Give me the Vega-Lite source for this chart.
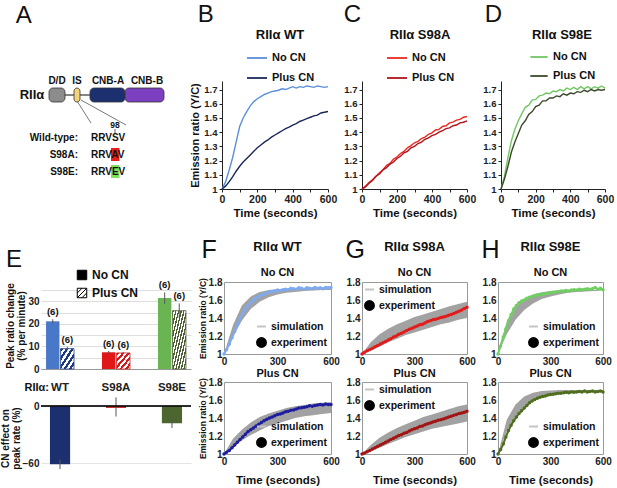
{
  "$schema": "https://vega.github.io/schema/vega-lite/v6.json",
  "padding": {"left": 0, "top": 3, "right": 0, "bottom": 0},
  "config": {
    "font": "Liberation Sans",
    "view": {"stroke": null},
    "axis": {"labelFont": "Liberation Sans", "titleFont": "Liberation Sans", "labelFontWeight": "bold", "titleFontWeight": "bold", "labelFontSize": 10, "titleFontSize": 11, "labelColor": "#222", "titleColor": "#111", "domainColor": "#222", "tickColor": "#222", "grid": false, "labelFlush": false},
    "legend": {"labelFont": "Liberation Sans", "labelFontWeight": "bold", "labelFontSize": 11, "labelColor": "#111", "titleFont": "Liberation Sans", "titleColor": "#111"},
    "title": {"font": "Liberation Sans", "color": "#111"}
  },
  "datasets": {
    "bwt": [
      {"t":0,"v":1.0,"c":"No CN"},{"t":20,"v":1.05,"c":"No CN"},{"t":40,"v":1.13,"c":"No CN"},{"t":60,"v":1.22,"c":"No CN"},{"t":80,"v":1.33,"c":"No CN"},{"t":100,"v":1.44,"c":"No CN"},{"t":120,"v":1.5,"c":"No CN"},{"t":140,"v":1.545,"c":"No CN"},{"t":160,"v":1.585,"c":"No CN"},{"t":180,"v":1.615,"c":"No CN"},{"t":200,"v":1.635,"c":"No CN"},{"t":220,"v":1.65,"c":"No CN"},{"t":240,"v":1.665,"c":"No CN"},{"t":260,"v":1.675,"c":"No CN"},{"t":280,"v":1.685,"c":"No CN"},{"t":300,"v":1.69,"c":"No CN"},{"t":320,"v":1.695,"c":"No CN"},{"t":340,"v":1.705,"c":"No CN"},{"t":360,"v":1.7,"c":"No CN"},{"t":380,"v":1.71,"c":"No CN"},{"t":400,"v":1.72,"c":"No CN"},{"t":420,"v":1.71,"c":"No CN"},{"t":440,"v":1.72,"c":"No CN"},{"t":460,"v":1.715,"c":"No CN"},{"t":480,"v":1.725,"c":"No CN"},{"t":500,"v":1.72,"c":"No CN"},{"t":520,"v":1.715,"c":"No CN"},{"t":540,"v":1.725,"c":"No CN"},{"t":560,"v":1.72,"c":"No CN"},{"t":580,"v":1.715,"c":"No CN"},{"t":600,"v":1.72,"c":"No CN"},
      {"t":0,"v":1.0,"c":"Plus CN"},{"t":20,"v":1.02,"c":"Plus CN"},{"t":40,"v":1.05,"c":"Plus CN"},{"t":60,"v":1.085,"c":"Plus CN"},{"t":80,"v":1.125,"c":"Plus CN"},{"t":100,"v":1.16,"c":"Plus CN"},{"t":120,"v":1.19,"c":"Plus CN"},{"t":140,"v":1.215,"c":"Plus CN"},{"t":160,"v":1.24,"c":"Plus CN"},{"t":180,"v":1.265,"c":"Plus CN"},{"t":200,"v":1.29,"c":"Plus CN"},{"t":220,"v":1.31,"c":"Plus CN"},{"t":240,"v":1.33,"c":"Plus CN"},{"t":260,"v":1.345,"c":"Plus CN"},{"t":280,"v":1.365,"c":"Plus CN"},{"t":300,"v":1.38,"c":"Plus CN"},{"t":320,"v":1.395,"c":"Plus CN"},{"t":340,"v":1.41,"c":"Plus CN"},{"t":360,"v":1.425,"c":"Plus CN"},{"t":380,"v":1.435,"c":"Plus CN"},{"t":400,"v":1.45,"c":"Plus CN"},{"t":420,"v":1.46,"c":"Plus CN"},{"t":440,"v":1.475,"c":"Plus CN"},{"t":460,"v":1.485,"c":"Plus CN"},{"t":480,"v":1.495,"c":"Plus CN"},{"t":500,"v":1.505,"c":"Plus CN"},{"t":520,"v":1.515,"c":"Plus CN"},{"t":540,"v":1.52,"c":"Plus CN"},{"t":560,"v":1.535,"c":"Plus CN"},{"t":580,"v":1.54,"c":"Plus CN"},{"t":600,"v":1.545,"c":"Plus CN"}
    ],
    "cs98a": [
      {"t":0,"v":1.0,"c":"No CN"},{"t":20,"v":1.02,"c":"No CN"},{"t":40,"v":1.045,"c":"No CN"},{"t":60,"v":1.065,"c":"No CN"},{"t":80,"v":1.09,"c":"No CN"},{"t":100,"v":1.115,"c":"No CN"},{"t":120,"v":1.135,"c":"No CN"},{"t":140,"v":1.165,"c":"No CN"},{"t":160,"v":1.18,"c":"No CN"},{"t":180,"v":1.21,"c":"No CN"},{"t":200,"v":1.225,"c":"No CN"},{"t":220,"v":1.25,"c":"No CN"},{"t":240,"v":1.265,"c":"No CN"},{"t":260,"v":1.29,"c":"No CN"},{"t":280,"v":1.305,"c":"No CN"},{"t":300,"v":1.325,"c":"No CN"},{"t":320,"v":1.335,"c":"No CN"},{"t":340,"v":1.355,"c":"No CN"},{"t":360,"v":1.365,"c":"No CN"},{"t":380,"v":1.385,"c":"No CN"},{"t":400,"v":1.395,"c":"No CN"},{"t":420,"v":1.415,"c":"No CN"},{"t":440,"v":1.42,"c":"No CN"},{"t":460,"v":1.44,"c":"No CN"},{"t":480,"v":1.445,"c":"No CN"},{"t":500,"v":1.465,"c":"No CN"},{"t":520,"v":1.47,"c":"No CN"},{"t":540,"v":1.485,"c":"No CN"},{"t":560,"v":1.49,"c":"No CN"},{"t":580,"v":1.505,"c":"No CN"},{"t":600,"v":1.51,"c":"No CN"},
      {"t":0,"v":1.0,"c":"Plus CN"},{"t":20,"v":1.015,"c":"Plus CN"},{"t":40,"v":1.04,"c":"Plus CN"},{"t":60,"v":1.06,"c":"Plus CN"},{"t":80,"v":1.09,"c":"Plus CN"},{"t":100,"v":1.105,"c":"Plus CN"},{"t":120,"v":1.135,"c":"Plus CN"},{"t":140,"v":1.15,"c":"Plus CN"},{"t":160,"v":1.175,"c":"Plus CN"},{"t":180,"v":1.19,"c":"Plus CN"},{"t":200,"v":1.215,"c":"Plus CN"},{"t":220,"v":1.23,"c":"Plus CN"},{"t":240,"v":1.255,"c":"Plus CN"},{"t":260,"v":1.265,"c":"Plus CN"},{"t":280,"v":1.29,"c":"Plus CN"},{"t":300,"v":1.3,"c":"Plus CN"},{"t":320,"v":1.32,"c":"Plus CN"},{"t":340,"v":1.33,"c":"Plus CN"},{"t":360,"v":1.35,"c":"Plus CN"},{"t":380,"v":1.36,"c":"Plus CN"},{"t":400,"v":1.375,"c":"Plus CN"},{"t":420,"v":1.385,"c":"Plus CN"},{"t":440,"v":1.4,"c":"Plus CN"},{"t":460,"v":1.41,"c":"Plus CN"},{"t":480,"v":1.425,"c":"Plus CN"},{"t":500,"v":1.43,"c":"Plus CN"},{"t":520,"v":1.445,"c":"Plus CN"},{"t":540,"v":1.45,"c":"Plus CN"},{"t":560,"v":1.465,"c":"Plus CN"},{"t":580,"v":1.47,"c":"Plus CN"},{"t":600,"v":1.48,"c":"Plus CN"}
    ],
    "ds98e": [
      {"t":0,"v":1.0,"c":"No CN"},{"t":20,"v":1.09,"c":"No CN"},{"t":40,"v":1.22,"c":"No CN"},{"t":60,"v":1.34,"c":"No CN"},{"t":80,"v":1.42,"c":"No CN"},{"t":100,"v":1.48,"c":"No CN"},{"t":120,"v":1.53,"c":"No CN"},{"t":140,"v":1.575,"c":"No CN"},{"t":160,"v":1.59,"c":"No CN"},{"t":180,"v":1.625,"c":"No CN"},{"t":200,"v":1.63,"c":"No CN"},{"t":220,"v":1.655,"c":"No CN"},{"t":240,"v":1.66,"c":"No CN"},{"t":260,"v":1.675,"c":"No CN"},{"t":280,"v":1.67,"c":"No CN"},{"t":300,"v":1.69,"c":"No CN"},{"t":320,"v":1.685,"c":"No CN"},{"t":340,"v":1.7,"c":"No CN"},{"t":360,"v":1.69,"c":"No CN"},{"t":380,"v":1.71,"c":"No CN"},{"t":400,"v":1.7,"c":"No CN"},{"t":420,"v":1.715,"c":"No CN"},{"t":440,"v":1.7,"c":"No CN"},{"t":460,"v":1.72,"c":"No CN"},{"t":480,"v":1.705,"c":"No CN"},{"t":500,"v":1.72,"c":"No CN"},{"t":520,"v":1.705,"c":"No CN"},{"t":540,"v":1.72,"c":"No CN"},{"t":560,"v":1.71,"c":"No CN"},{"t":580,"v":1.725,"c":"No CN"},{"t":600,"v":1.71,"c":"No CN"},
      {"t":0,"v":1.0,"c":"Plus CN"},{"t":20,"v":1.07,"c":"Plus CN"},{"t":40,"v":1.16,"c":"Plus CN"},{"t":60,"v":1.26,"c":"Plus CN"},{"t":80,"v":1.33,"c":"Plus CN"},{"t":100,"v":1.39,"c":"Plus CN"},{"t":120,"v":1.45,"c":"Plus CN"},{"t":140,"v":1.48,"c":"Plus CN"},{"t":160,"v":1.525,"c":"Plus CN"},{"t":180,"v":1.545,"c":"Plus CN"},{"t":200,"v":1.58,"c":"Plus CN"},{"t":220,"v":1.59,"c":"Plus CN"},{"t":240,"v":1.62,"c":"Plus CN"},{"t":260,"v":1.62,"c":"Plus CN"},{"t":280,"v":1.64,"c":"Plus CN"},{"t":300,"v":1.64,"c":"Plus CN"},{"t":320,"v":1.655,"c":"Plus CN"},{"t":340,"v":1.65,"c":"Plus CN"},{"t":360,"v":1.67,"c":"Plus CN"},{"t":380,"v":1.66,"c":"Plus CN"},{"t":400,"v":1.675,"c":"Plus CN"},{"t":420,"v":1.67,"c":"Plus CN"},{"t":440,"v":1.685,"c":"Plus CN"},{"t":460,"v":1.68,"c":"Plus CN"},{"t":480,"v":1.695,"c":"Plus CN"},{"t":500,"v":1.685,"c":"Plus CN"},{"t":520,"v":1.7,"c":"Plus CN"},{"t":540,"v":1.69,"c":"Plus CN"},{"t":560,"v":1.7,"c":"Plus CN"},{"t":580,"v":1.695,"c":"Plus CN"},{"t":600,"v":1.7,"c":"Plus CN"}
    ],
    "etop": [
      {"g":"WT","c":"No CN","v":21.1,"lo":20.2,"hi":22.0,"n":"(6)"},
      {"g":"WT","c":"Plus CN","v":9.0,"lo":8.2,"hi":9.8,"n":"(6)"},
      {"g":"S98A","c":"No CN","v":7.4,"lo":6.8,"hi":8.0,"n":"(6)"},
      {"g":"S98A","c":"Plus CN","v":7.1,"lo":6.7,"hi":7.5,"n":"(6)"},
      {"g":"S98E","c":"No CN","v":31.4,"lo":28.9,"hi":33.9,"n":"(6)"},
      {"g":"S98E","c":"Plus CN","v":25.8,"lo":22.6,"hi":29.0,"n":"(6)"}
    ],
    "eleg": [{"k":"No CN","g":"WT","c":"No CN","v":0},{"k":"Plus CN","g":"WT","c":"Plus CN","v":0}],
    "ebot": [
      {"g":"WT","v":-61,"lo":-66,"hi":-56},
      {"g":"S98A","v":-2,"lo":-11,"hi":9},
      {"g":"S98E","v":-18,"lo":-23,"hi":-13}
    ],
    "simleg": [{"k":"simulation","t":300,"v":1.4},{"k":"experiment","t":300,"v":1.4}],
    "f1e": [{"t":0,"v":1.0},{"t":15,"v":1.05},{"t":30,"v":1.11},{"t":45,"v":1.18},{"t":60,"v":1.25},{"t":75,"v":1.32},{"t":90,"v":1.39},{"t":105,"v":1.45},{"t":120,"v":1.5},{"t":135,"v":1.54},{"t":150,"v":1.57},{"t":165,"v":1.6},{"t":180,"v":1.62},{"t":195,"v":1.64},{"t":210,"v":1.655},{"t":225,"v":1.665},{"t":240,"v":1.68},{"t":255,"v":1.69},{"t":270,"v":1.695},{"t":285,"v":1.7},{"t":300,"v":1.71},{"t":315,"v":1.705},{"t":330,"v":1.715},{"t":345,"v":1.72},{"t":360,"v":1.715},{"t":375,"v":1.73},{"t":390,"v":1.725},{"t":405,"v":1.72},{"t":420,"v":1.735},{"t":435,"v":1.73},{"t":450,"v":1.72},{"t":465,"v":1.735},{"t":480,"v":1.73},{"t":495,"v":1.725},{"t":510,"v":1.74},{"t":525,"v":1.73},{"t":540,"v":1.735},{"t":555,"v":1.725},{"t":570,"v":1.74},{"t":585,"v":1.735},{"t":600,"v":1.74}],
    "f1s": [{"t":0,"v":1.0,"v2":1.0},{"t":50,"v":1.19,"v2":1.32},{"t":100,"v":1.37,"v2":1.54},{"t":150,"v":1.5,"v2":1.64},{"t":200,"v":1.58,"v2":1.69},{"t":250,"v":1.63,"v2":1.71},{"t":300,"v":1.66,"v2":1.72},{"t":350,"v":1.68,"v2":1.725},{"t":400,"v":1.69,"v2":1.725},{"t":450,"v":1.7,"v2":1.725},{"t":500,"v":1.705,"v2":1.725},{"t":550,"v":1.71,"v2":1.725},{"t":600,"v":1.71,"v2":1.725}],
    "f2e": [{"t":0,"v":1.0},{"t":15,"v":1.02},{"t":30,"v":1.04},{"t":45,"v":1.07},{"t":60,"v":1.1},{"t":75,"v":1.13},{"t":90,"v":1.16},{"t":105,"v":1.19},{"t":120,"v":1.22},{"t":135,"v":1.25},{"t":150,"v":1.27},{"t":165,"v":1.29},{"t":180,"v":1.31},{"t":195,"v":1.33},{"t":210,"v":1.35},{"t":225,"v":1.37},{"t":240,"v":1.385},{"t":255,"v":1.4},{"t":270,"v":1.41},{"t":285,"v":1.425},{"t":300,"v":1.44},{"t":315,"v":1.445},{"t":330,"v":1.455},{"t":345,"v":1.47},{"t":360,"v":1.475},{"t":375,"v":1.485},{"t":390,"v":1.49},{"t":405,"v":1.5},{"t":420,"v":1.51},{"t":435,"v":1.515},{"t":450,"v":1.52},{"t":465,"v":1.525},{"t":480,"v":1.535},{"t":495,"v":1.53},{"t":510,"v":1.54},{"t":525,"v":1.545},{"t":540,"v":1.55},{"t":555,"v":1.545},{"t":570,"v":1.555},{"t":585,"v":1.55},{"t":600,"v":1.55}],
    "f2s": [{"t":0,"v":1.0,"v2":1.0},{"t":50,"v":1.08,"v2":1.17},{"t":100,"v":1.15,"v2":1.27},{"t":150,"v":1.21,"v2":1.35},{"t":200,"v":1.26,"v2":1.41},{"t":250,"v":1.31,"v2":1.45},{"t":300,"v":1.34,"v2":1.48},{"t":350,"v":1.37,"v2":1.51},{"t":400,"v":1.4,"v2":1.53},{"t":450,"v":1.42,"v2":1.545},{"t":500,"v":1.43,"v2":1.56},{"t":550,"v":1.445,"v2":1.57},{"t":600,"v":1.455,"v2":1.575}],
    "g1e": [{"t":0,"v":1.0},{"t":15,"v":1.02},{"t":30,"v":1.035},{"t":45,"v":1.05},{"t":60,"v":1.065},{"t":75,"v":1.08},{"t":90,"v":1.095},{"t":105,"v":1.11},{"t":120,"v":1.125},{"t":135,"v":1.14},{"t":150,"v":1.155},{"t":165,"v":1.17},{"t":180,"v":1.19},{"t":195,"v":1.2},{"t":210,"v":1.22},{"t":225,"v":1.23},{"t":240,"v":1.245},{"t":255,"v":1.26},{"t":270,"v":1.275},{"t":285,"v":1.285},{"t":300,"v":1.3},{"t":315,"v":1.31},{"t":330,"v":1.325},{"t":345,"v":1.33},{"t":360,"v":1.345},{"t":375,"v":1.36},{"t":390,"v":1.37},{"t":405,"v":1.38},{"t":420,"v":1.385},{"t":435,"v":1.395},{"t":450,"v":1.405},{"t":465,"v":1.41},{"t":480,"v":1.42},{"t":495,"v":1.43},{"t":510,"v":1.44},{"t":525,"v":1.45},{"t":540,"v":1.465},{"t":555,"v":1.475},{"t":570,"v":1.49},{"t":585,"v":1.505},{"t":600,"v":1.52}],
    "g1s": [{"t":0,"v":1.0,"v2":1.0},{"t":50,"v":1.04,"v2":1.13},{"t":100,"v":1.08,"v2":1.22},{"t":150,"v":1.13,"v2":1.28},{"t":200,"v":1.17,"v2":1.33},{"t":250,"v":1.21,"v2":1.37},{"t":300,"v":1.24,"v2":1.41},{"t":350,"v":1.27,"v2":1.44},{"t":400,"v":1.3,"v2":1.47},{"t":450,"v":1.33,"v2":1.5},{"t":500,"v":1.35,"v2":1.53},{"t":550,"v":1.38,"v2":1.555},{"t":600,"v":1.4,"v2":1.58}],
    "g2e": [{"t":0,"v":1.0},{"t":15,"v":1.01},{"t":30,"v":1.025},{"t":45,"v":1.04},{"t":60,"v":1.055},{"t":75,"v":1.07},{"t":90,"v":1.085},{"t":105,"v":1.1},{"t":120,"v":1.115},{"t":135,"v":1.13},{"t":150,"v":1.145},{"t":165,"v":1.16},{"t":180,"v":1.175},{"t":195,"v":1.19},{"t":210,"v":1.205},{"t":225,"v":1.215},{"t":240,"v":1.23},{"t":255,"v":1.24},{"t":270,"v":1.255},{"t":285,"v":1.27},{"t":300,"v":1.28},{"t":315,"v":1.29},{"t":330,"v":1.305},{"t":345,"v":1.31},{"t":360,"v":1.325},{"t":375,"v":1.335},{"t":390,"v":1.345},{"t":405,"v":1.355},{"t":420,"v":1.365},{"t":435,"v":1.375},{"t":450,"v":1.38},{"t":465,"v":1.39},{"t":480,"v":1.4},{"t":495,"v":1.41},{"t":510,"v":1.42},{"t":525,"v":1.43},{"t":540,"v":1.44},{"t":555,"v":1.45},{"t":570,"v":1.455},{"t":585,"v":1.465},{"t":600,"v":1.475}],
    "g2s": [{"t":0,"v":1.0,"v2":1.0},{"t":50,"v":1.03,"v2":1.1},{"t":100,"v":1.07,"v2":1.18},{"t":150,"v":1.11,"v2":1.24},{"t":200,"v":1.15,"v2":1.29},{"t":250,"v":1.19,"v2":1.33},{"t":300,"v":1.22,"v2":1.37},{"t":350,"v":1.25,"v2":1.41},{"t":400,"v":1.28,"v2":1.44},{"t":450,"v":1.3,"v2":1.47},{"t":500,"v":1.32,"v2":1.5},{"t":550,"v":1.34,"v2":1.53},{"t":600,"v":1.36,"v2":1.55}],
    "h1e": [{"t":0,"v":1.0},{"t":15,"v":1.09},{"t":30,"v":1.19},{"t":45,"v":1.28},{"t":60,"v":1.37},{"t":75,"v":1.44},{"t":90,"v":1.5},{"t":105,"v":1.54},{"t":120,"v":1.57},{"t":135,"v":1.59},{"t":150,"v":1.6},{"t":165,"v":1.62},{"t":180,"v":1.63},{"t":195,"v":1.64},{"t":210,"v":1.65},{"t":225,"v":1.655},{"t":240,"v":1.66},{"t":255,"v":1.665},{"t":270,"v":1.67},{"t":285,"v":1.675},{"t":300,"v":1.68},{"t":315,"v":1.685},{"t":330,"v":1.69},{"t":345,"v":1.695},{"t":360,"v":1.7},{"t":375,"v":1.7},{"t":390,"v":1.705},{"t":405,"v":1.7},{"t":420,"v":1.71},{"t":435,"v":1.715},{"t":450,"v":1.71},{"t":465,"v":1.72},{"t":480,"v":1.715},{"t":495,"v":1.72},{"t":510,"v":1.725},{"t":525,"v":1.72},{"t":540,"v":1.725},{"t":555,"v":1.74},{"t":570,"v":1.72},{"t":585,"v":1.73},{"t":600,"v":1.715}],
    "h1s": [{"t":0,"v":1.0,"v2":1.0},{"t":50,"v":1.22,"v2":1.36},{"t":100,"v":1.38,"v2":1.52},{"t":150,"v":1.49,"v2":1.61},{"t":200,"v":1.56,"v2":1.66},{"t":250,"v":1.61,"v2":1.685},{"t":300,"v":1.64,"v2":1.7},{"t":350,"v":1.66,"v2":1.705},{"t":400,"v":1.68,"v2":1.71},{"t":450,"v":1.69,"v2":1.71},{"t":500,"v":1.695,"v2":1.715},{"t":550,"v":1.7,"v2":1.715},{"t":600,"v":1.705,"v2":1.715}],
    "h2e": [{"t":0,"v":1.0},{"t":15,"v":1.05},{"t":30,"v":1.11},{"t":45,"v":1.19},{"t":60,"v":1.26},{"t":75,"v":1.32},{"t":90,"v":1.37},{"t":105,"v":1.41},{"t":120,"v":1.45},{"t":135,"v":1.48},{"t":150,"v":1.51},{"t":165,"v":1.54},{"t":180,"v":1.57},{"t":195,"v":1.59},{"t":210,"v":1.605},{"t":225,"v":1.62},{"t":240,"v":1.63},{"t":255,"v":1.64},{"t":270,"v":1.645},{"t":285,"v":1.655},{"t":300,"v":1.66},{"t":315,"v":1.665},{"t":330,"v":1.67},{"t":345,"v":1.675},{"t":360,"v":1.675},{"t":375,"v":1.68},{"t":390,"v":1.685},{"t":405,"v":1.68},{"t":420,"v":1.69},{"t":435,"v":1.685},{"t":450,"v":1.69},{"t":465,"v":1.695},{"t":480,"v":1.69},{"t":495,"v":1.7},{"t":510,"v":1.69},{"t":525,"v":1.695},{"t":540,"v":1.7},{"t":555,"v":1.69},{"t":570,"v":1.695},{"t":585,"v":1.7},{"t":600,"v":1.69}],
    "h2s": [{"t":0,"v":1.0,"v2":1.0},{"t":50,"v":1.25,"v2":1.38},{"t":100,"v":1.42,"v2":1.55},{"t":150,"v":1.53,"v2":1.64},{"t":200,"v":1.6,"v2":1.68},{"t":250,"v":1.64,"v2":1.7},{"t":300,"v":1.66,"v2":1.705},{"t":350,"v":1.675,"v2":1.71},{"t":400,"v":1.685,"v2":1.71},{"t":450,"v":1.69,"v2":1.71},{"t":500,"v":1.695,"v2":1.71},{"t":550,"v":1.7,"v2":1.71},{"t":600,"v":1.7,"v2":1.71}]
  },
  "vconcat": [
    {
      "hconcat": [
        {
          "title": {"text": "A", "anchor": "start", "fontSize": 24, "fontWeight": "normal", "offset": 48, "dx": -4},
          "width": 142,
          "height": 137,
          "encoding": {
            "x": {"field": "x", "type": "quantitative", "scale": {"domain": [38, 180], "zero": false}, "axis": null},
            "y": {"field": "y", "type": "quantitative", "scale": {"domain": [78, 215], "zero": false, "reverse": true}, "axis": null}
          },
          "layer": [
            {"data": {"values": [{"x": 62, "x2": 88, "y": 92}]}, "mark": {"type": "rule", "color": "#333", "strokeWidth": 1.2}, "encoding": {"x2": {"field": "x2"}}},
            {"data": {"values": [{"x": 74, "y": 98, "x2": 88, "y2": 120}, {"x": 78, "y": 97, "x2": 123, "y2": 122}]}, "mark": {"type": "rule", "color": "#555", "strokeWidth": 0.8}, "encoding": {"x2": {"field": "x2"}, "y2": {"field": "y2"}}},
            {"data": {"values": [{"x": 46, "x2": 62, "y": 85, "y2": 99, "d": "D/D"}, {"x": 71, "x2": 77, "y": 85, "y2": 99, "d": "IS"}, {"x": 87, "x2": 122, "y": 85, "y2": 99, "d": "CNB-A"}, {"x": 122, "x2": 161, "y": 85, "y2": 99, "d": "CNB-B"}]}, "mark": {"type": "rect", "cornerRadius": 4, "stroke": "#333", "strokeWidth": 0.8}, "encoding": {"x2": {"field": "x2"}, "y2": {"field": "y2"}, "color": {"field": "d", "type": "nominal", "scale": {"domain": ["D/D", "IS", "CNB-A", "CNB-B"], "range": ["#8c8c8c", "#f3d27c", "#1c2f6e", "#7b3fbf"]}, "legend": null}}},
            {"data": {"values": [{"x": 54, "y": 78, "t": "D/D"}, {"x": 74, "y": 78, "t": "IS"}, {"x": 105, "y": 78, "t": "CNB-A"}, {"x": 144, "y": 78, "t": "CNB-B"}]}, "mark": {"type": "text", "fontSize": 10, "fontWeight": "bold", "color": "#111"}, "encoding": {"text": {"field": "t"}}},
            {"data": {"values": [{"x": 29, "y": 92, "t": "RIIα"}]}, "mark": {"type": "text", "fontSize": 13, "fontWeight": "bold", "color": "#111"}, "encoding": {"text": {"field": "t"}}},
            {"data": {"values": [{"x": 108, "x2": 116.5, "y": 145, "y2": 158, "m": "S98A"}, {"x": 108, "x2": 116.5, "y": 162, "y2": 175, "m": "S98E"}]}, "mark": {"type": "rect"}, "encoding": {"x2": {"field": "x2"}, "y2": {"field": "y2"}, "fill": {"field": "m", "type": "nominal", "scale": {"domain": ["S98A", "S98E"], "range": ["#e3201b", "#7fe05a"]}, "legend": null}}},
            {"data": {"values": [{"x": 75, "y": 135, "t": "Wild-type:"}, {"x": 75, "y": 152, "t": "S98A:"}, {"x": 75, "y": 169, "t": "S98E:"}]}, "mark": {"type": "text", "align": "right", "fontSize": 10, "fontWeight": "bold", "color": "#111"}, "encoding": {"text": {"field": "t"}}},
            {"data": {"values": [{"x": 88, "y": 135, "t": "RRVSV"}, {"x": 88, "y": 152, "t": "RRVAV"}, {"x": 88, "y": 169, "t": "RRVEV"}]}, "mark": {"type": "text", "align": "left", "fontSize": 10, "fontWeight": "bold", "color": "#111"}, "encoding": {"text": {"field": "t"}}},
            {"data": {"values": [{"x": 112, "y": 122, "t": "98"}]}, "mark": {"type": "text", "fontSize": 8.5, "fontWeight": "bold", "color": "#111"}, "encoding": {"text": {"field": "t"}}},
            {"data": {"values": [{"x": 112, "y": 126, "y2": 130}]}, "mark": {"type": "rule", "color": "#333", "strokeWidth": 0.8}, "encoding": {"y2": {"field": "y2"}}}
          ]
        },
        {
          "title": {"text": "B", "anchor": "start", "fontSize": 24, "fontWeight": "normal", "offset": 2, "dx": 8},
          "width": 106,
          "height": 108,
          "data": {"name": "bwt"},
          "mark": {"type": "line", "strokeWidth": 1.4},
          "encoding": {
            "x": {"field": "t", "type": "quantitative", "scale": {"domain": [0, 600], "nice": false}, "axis": {"values": [0, 100, 200, 300, 400, 500, 600], "labelExpr": "datum.value % 200 == 0 ? datum.label : ''", "title": "Time (seconds)", "titleFontSize": 11.5, "labelFontSize": 10.5, "tickSize": 3, "titlePadding": 3}},
            "y": {"field": "v", "type": "quantitative", "scale": {"domain": [1, 1.76], "nice": false, "zero": false}, "axis": {"values": [1, 1.1, 1.2, 1.3, 1.4, 1.5, 1.6, 1.7], "format": ".1~f", "title": "Emission ratio (Y/C)", "labelFontSize": 9.5, "tickSize": 3, "titlePadding": 3}},
            "color": {"field": "c", "type": "nominal", "scale": {"domain": ["No CN", "Plus CN"], "range": ["#5b8fd9", "#1b2858"]}, "legend": {"title": "RIIα WT", "orient": "none", "legendX": 24, "legendY": -52, "titleFontSize": 13, "titleFontWeight": "bold", "titleAnchor": "middle", "titlePadding": 5, "symbolType": "stroke", "symbolSize": 400, "symbolStrokeWidth": 1.8, "labelFontSize": 11, "rowPadding": 4}}
          }
        },
        {
          "title": {"text": "C", "anchor": "start", "fontSize": 24, "fontWeight": "normal", "offset": 2},
          "width": 105,
          "height": 108,
          "data": {"name": "cs98a"},
          "mark": {"type": "line", "strokeWidth": 1.4},
          "encoding": {
            "x": {"field": "t", "type": "quantitative", "scale": {"domain": [0, 600], "nice": false}, "axis": {"values": [0, 100, 200, 300, 400, 500, 600], "labelExpr": "datum.value % 200 == 0 ? datum.label : ''", "title": "Time (seconds)", "titleFontSize": 11.5, "labelFontSize": 10.5, "tickSize": 3, "titlePadding": 3}},
            "y": {"field": "v", "type": "quantitative", "scale": {"domain": [1, 1.76], "nice": false, "zero": false}, "axis": {"values": [1, 1.1, 1.2, 1.3, 1.4, 1.5, 1.6, 1.7], "format": ".1~f", "title": null, "labelFontSize": 9.5, "tickSize": 3}},
            "color": {"field": "c", "type": "nominal", "scale": {"domain": ["No CN", "Plus CN"], "range": ["#ea2a22", "#b3121a"]}, "legend": {"title": "RIIα S98A", "orient": "none", "legendX": 24, "legendY": -52, "titleFontSize": 13, "titleFontWeight": "bold", "titleAnchor": "middle", "titlePadding": 5, "symbolType": "stroke", "symbolSize": 400, "symbolStrokeWidth": 1.8, "labelFontSize": 11, "rowPadding": 4}}
          }
        },
        {
          "title": {"text": "D", "anchor": "start", "fontSize": 24, "fontWeight": "normal", "offset": 2, "dx": 2},
          "width": 104,
          "height": 108,
          "data": {"name": "ds98e"},
          "mark": {"type": "line", "strokeWidth": 1.4},
          "encoding": {
            "x": {"field": "t", "type": "quantitative", "scale": {"domain": [0, 600], "nice": false}, "axis": {"values": [0, 100, 200, 300, 400, 500, 600], "labelExpr": "datum.value % 200 == 0 ? datum.label : ''", "title": "Time (seconds)", "titleFontSize": 11.5, "labelFontSize": 10.5, "tickSize": 3, "titlePadding": 3}},
            "y": {"field": "v", "type": "quantitative", "scale": {"domain": [1, 1.76], "nice": false, "zero": false}, "axis": {"values": [1, 1.1, 1.2, 1.3, 1.4, 1.5, 1.6, 1.7], "format": ".1~f", "title": null, "labelFontSize": 9.5, "tickSize": 3}},
            "color": {"field": "c", "type": "nominal", "scale": {"domain": ["No CN", "Plus CN"], "range": ["#72c763", "#3b4a2a"]}, "legend": {"title": "RIIα S98E", "orient": "none", "legendX": 28, "legendY": -52, "titleFontSize": 13, "titleFontWeight": "bold", "titleAnchor": "middle", "titlePadding": 5, "symbolType": "stroke", "symbolSize": 300, "symbolStrokeWidth": 1.8, "labelFontSize": 11, "rowPadding": 4}}
          }
        }
      ],
      "spacing": 6,
      "resolve": {"scale": {"color": "independent", "fill": "independent", "x": "independent", "y": "independent"}}
    },
    {
      "hconcat": [
        {
          "vconcat": [
            {
              "title": {"text": "E", "anchor": "start", "fontSize": 24, "fontWeight": "normal", "offset": -3},
              "width": 150,
              "height": 87,
              "data": {"name": "etop"},
              "encoding": {
                "x": {"field": "g", "type": "nominal", "sort": ["WT", "S98A", "S98E"], "scale": {"paddingInner": 0.5, "paddingOuter": 0.09}, "axis": {"labelAngle": 0, "labelFontSize": 11.5, "labelPadding": 12, "ticks": false, "domainColor": "#999", "title": "RIIα:", "titleFontSize": 11, "titleAngle": 0, "titleAlign": "left", "titleBaseline": "top", "titleX": -17, "titleY": 12}},
                "xOffset": {"field": "c", "type": "nominal", "sort": ["No CN", "Plus CN"], "scale": {"paddingInner": 0.08}},
                "y": {"field": "v", "type": "quantitative", "scale": {"domain": [0, 38.5], "nice": false}, "axis": {"values": [0, 5, 10, 15, 20, 25, 30, 35], "labelExpr": "datum.value % 10 == 0 ? datum.label : ''", "grid": true, "gridColor": "#dedede", "domain": false, "ticks": false, "labelFontSize": 10, "labelPadding": 2, "title": ["Peak ratio change", "(% per minute)"], "titleFontSize": 10, "titleLineHeight": 11, "titlePadding": 1}}
              },
              "layer": [
                {"transform": [{"filter": "datum.c == 'No CN'"}], "mark": {"type": "bar"}, "encoding": {"color": {"field": "g", "type": "nominal", "scale": {"domain": ["WT", "S98A", "S98E"], "range": ["#4a78c8", "#e01818", "#6ab454"]}, "legend": null}}},
                {"transform": [{"filter": "datum.c == 'Plus CN' && datum.g == 'WT'"}], "mark": {"type": "bar", "stroke": "#1f3a80", "strokeWidth": 0.8, "fill": {"gradient": "linear", "x1": 0, "y1": 0, "x2": 1, "y2": 1, "stops": [{"offset": 0, "color": "#1f3a80"}, {"offset": 0.1, "color": "#1f3a80"}, {"offset": 0.1, "color": "#ffffff"}, {"offset": 0.2, "color": "#ffffff"}, {"offset": 0.2, "color": "#1f3a80"}, {"offset": 0.3, "color": "#1f3a80"}, {"offset": 0.3, "color": "#ffffff"}, {"offset": 0.4, "color": "#ffffff"}, {"offset": 0.4, "color": "#1f3a80"}, {"offset": 0.5, "color": "#1f3a80"}, {"offset": 0.5, "color": "#ffffff"}, {"offset": 0.6, "color": "#ffffff"}, {"offset": 0.6, "color": "#1f3a80"}, {"offset": 0.7, "color": "#1f3a80"}, {"offset": 0.7, "color": "#ffffff"}, {"offset": 0.8, "color": "#ffffff"}, {"offset": 0.8, "color": "#1f3a80"}, {"offset": 0.9, "color": "#1f3a80"}, {"offset": 0.9, "color": "#ffffff"}, {"offset": 1, "color": "#ffffff"}]}}, "encoding": {}},
                {"transform": [{"filter": "datum.c == 'Plus CN' && datum.g == 'S98A'"}], "mark": {"type": "bar", "stroke": "#d01c1c", "strokeWidth": 0.8, "fill": {"gradient": "linear", "x1": 0, "y1": 0, "x2": 1, "y2": 1, "stops": [{"offset": 0, "color": "#d01c1c"}, {"offset": 0.1, "color": "#d01c1c"}, {"offset": 0.1, "color": "#ffffff"}, {"offset": 0.2, "color": "#ffffff"}, {"offset": 0.2, "color": "#d01c1c"}, {"offset": 0.3, "color": "#d01c1c"}, {"offset": 0.3, "color": "#ffffff"}, {"offset": 0.4, "color": "#ffffff"}, {"offset": 0.4, "color": "#d01c1c"}, {"offset": 0.5, "color": "#d01c1c"}, {"offset": 0.5, "color": "#ffffff"}, {"offset": 0.6, "color": "#ffffff"}, {"offset": 0.6, "color": "#d01c1c"}, {"offset": 0.7, "color": "#d01c1c"}, {"offset": 0.7, "color": "#ffffff"}, {"offset": 0.8, "color": "#ffffff"}, {"offset": 0.8, "color": "#d01c1c"}, {"offset": 0.9, "color": "#d01c1c"}, {"offset": 0.9, "color": "#ffffff"}, {"offset": 1, "color": "#ffffff"}]}}, "encoding": {}},
                {"transform": [{"filter": "datum.c == 'Plus CN' && datum.g == 'S98E'"}], "mark": {"type": "bar", "stroke": "#4f5f35", "strokeWidth": 0.8, "fill": {"gradient": "linear", "x1": 0, "y1": 0, "x2": 1, "y2": 1, "stops": [{"offset": 0, "color": "#4f5f35"}, {"offset": 0.05, "color": "#4f5f35"}, {"offset": 0.05, "color": "#ffffff"}, {"offset": 0.1, "color": "#ffffff"}, {"offset": 0.1, "color": "#4f5f35"}, {"offset": 0.15, "color": "#4f5f35"}, {"offset": 0.15, "color": "#ffffff"}, {"offset": 0.2, "color": "#ffffff"}, {"offset": 0.2, "color": "#4f5f35"}, {"offset": 0.25, "color": "#4f5f35"}, {"offset": 0.25, "color": "#ffffff"}, {"offset": 0.3, "color": "#ffffff"}, {"offset": 0.3, "color": "#4f5f35"}, {"offset": 0.35, "color": "#4f5f35"}, {"offset": 0.35, "color": "#ffffff"}, {"offset": 0.4, "color": "#ffffff"}, {"offset": 0.4, "color": "#4f5f35"}, {"offset": 0.45, "color": "#4f5f35"}, {"offset": 0.45, "color": "#ffffff"}, {"offset": 0.5, "color": "#ffffff"}, {"offset": 0.5, "color": "#4f5f35"}, {"offset": 0.55, "color": "#4f5f35"}, {"offset": 0.55, "color": "#ffffff"}, {"offset": 0.6, "color": "#ffffff"}, {"offset": 0.6, "color": "#4f5f35"}, {"offset": 0.65, "color": "#4f5f35"}, {"offset": 0.65, "color": "#ffffff"}, {"offset": 0.7, "color": "#ffffff"}, {"offset": 0.7, "color": "#4f5f35"}, {"offset": 0.75, "color": "#4f5f35"}, {"offset": 0.75, "color": "#ffffff"}, {"offset": 0.8, "color": "#ffffff"}, {"offset": 0.8, "color": "#4f5f35"}, {"offset": 0.85, "color": "#4f5f35"}, {"offset": 0.85, "color": "#ffffff"}, {"offset": 0.9, "color": "#ffffff"}, {"offset": 0.9, "color": "#4f5f35"}, {"offset": 0.95, "color": "#4f5f35"}, {"offset": 0.95, "color": "#ffffff"}, {"offset": 1, "color": "#ffffff"}]}}, "encoding": {}},
                {"mark": {"type": "rule", "color": "#555", "strokeWidth": 1}, "encoding": {"y": {"field": "lo", "type": "quantitative"}, "y2": {"field": "hi"}}},
                {"mark": {"type": "text", "dy": -7, "fontSize": 9.5, "fontWeight": "bold", "color": "#111"}, "encoding": {"y": {"field": "hi", "type": "quantitative"}, "text": {"field": "n"}}},
                {"data": {"name": "eleg"}, "mark": {"type": "point", "opacity": 0}, "encoding": {
                  "shape": {"field": "k", "type": "nominal", "scale": {"domain": ["No CN", "Plus CN"], "range": ["square", "M-1,-1H1V1H-1Z M-1,0L0,-1 M-1,1L1,-1 M0,1L1,0"]}, "legend": {"title": null, "orient": "none", "legendX": 35, "legendY": -13, "symbolSize": 90, "symbolOpacity": 1, "symbolStrokeWidth": 1, "labelFontSize": 12, "rowPadding": 4}},
                  "fill": {"field": "k", "type": "nominal", "scale": {"domain": ["No CN", "Plus CN"], "range": ["#000000", "#ffffff"]}, "legend": {"title": null, "orient": "none", "legendX": 35, "legendY": -13, "symbolSize": 90, "symbolOpacity": 1, "symbolStrokeWidth": 1, "labelFontSize": 12, "rowPadding": 4}},
                  "stroke": {"field": "k", "type": "nominal", "scale": {"domain": ["No CN", "Plus CN"], "range": ["#000000", "#000000"]}, "legend": {"title": null, "orient": "none", "legendX": 35, "legendY": -13, "symbolSize": 90, "symbolOpacity": 1, "symbolStrokeWidth": 1, "labelFontSize": 12, "rowPadding": 4}}
                }}
              ]
            },
            {
              "width": 150,
              "height": 64,
              "data": {"name": "ebot"},
              "layer": [
                {"mark": {"type": "bar", "width": {"band": 0.72}}, "encoding": {
                  "x": {"field": "g", "type": "nominal", "sort": ["WT", "S98A", "S98E"], "scale": {"paddingInner": 0.5, "paddingOuter": 0.09}, "axis": null},
                  "y": {"field": "v", "type": "quantitative", "scale": {"domain": [-67, 0], "nice": false}, "axis": {"values": [-60, -50, -40, -30, -20, -10, 0], "labelExpr": "datum.value % 20 == 0 ? datum.label : ''", "grid": true, "gridColor": "#e4e4e4", "domain": false, "ticks": false, "labelFontSize": 10, "labelPadding": 2, "title": ["CN effect on", "peak rate (%)"], "titleFontSize": 10, "titleLineHeight": 11, "titlePadding": 1}},
                  "color": {"field": "g", "type": "nominal", "scale": {"domain": ["WT", "S98A", "S98E"], "range": ["#1c2f6e", "#c81e1e", "#4d6630"]}, "legend": null}}},
                {"mark": {"type": "rule", "color": "#555", "strokeWidth": 1}, "encoding": {
                  "x": {"field": "g", "type": "nominal", "sort": ["WT", "S98A", "S98E"]},
                  "y": {"field": "lo", "type": "quantitative"}, "y2": {"field": "hi"}}},
                {"mark": {"type": "rule", "color": "#111", "strokeWidth": 1.2}, "encoding": {"y": {"datum": 0}}}
              ]
            }
          ],
          "spacing": 3,
          "resolve": {"scale": {"color": "independent", "fill": "independent", "stroke": "independent", "shape": "independent", "x": "independent", "y": "independent"}}
        },
        {
          "title": {"text": "F", "anchor": "start", "fontSize": 25, "fontWeight": "normal", "offset": -22, "dx": 4},
          "vconcat": [
            {
              "title": {"text": "RIIα WT", "subtitle": "No CN", "fontSize": 13, "fontWeight": "bold", "subtitleFont": "Liberation Sans", "subtitleFontSize": 11, "subtitleFontWeight": "bold", "subtitleColor": "#111", "subtitlePadding": 13, "frame": "group", "offset": -1},
              "width": 107, "height": 72, "view": {"stroke": "#999"},
              "encoding": {
                "x": {"field": "t", "type": "quantitative", "scale": {"domain": [0, 600], "nice": false}, "axis": {"values": [0, 300, 600], "ticks": false, "domain": false, "labelPadding": 2, "title": null}},
                "y": {"field": "v", "type": "quantitative", "scale": {"domain": [1, 1.8], "nice": false, "zero": false}, "axis": {"values": [1, 1.2, 1.4, 1.6, 1.8], "format": ".1~f", "ticks": false, "domain": false, "labelPadding": 2, "title": "Emission ratio (Y/C)", "titleFontSize": 8.5, "titlePadding": 1}}
              },
              "layer": [
                {"data": {"name": "f1s"}, "mark": {"type": "area", "color": "#a2a2a2"}, "encoding": {"y2": {"field": "v2"}}},
                {"data": {"name": "f1e"}, "mark": {"type": "line", "color": "#7eaaf0", "strokeWidth": 2}, "encoding": {}},
                {"data": {"name": "f1e"}, "mark": {"type": "point", "filled": true, "size": 12, "color": "#7eaaf0", "opacity": 1}, "encoding": {}},
                {"data": {"name": "simleg"}, "mark": {"type": "point", "opacity": 0, "filled": true}, "encoding": {
                  "shape": {"field": "k", "type": "nominal", "scale": {"domain": ["simulation", "experiment"], "range": ["stroke", "circle"]}, "legend": {"title": null, "orient": "bottom-right", "offset": 3, "symbolSize": 80, "symbolOpacity": 1, "symbolStrokeWidth": 2, "labelFontSize": 10.5, "rowPadding": 2}},
                  "fill": {"field": "k", "type": "nominal", "scale": {"domain": ["simulation", "experiment"], "range": ["#c4c4c4", "#000000"]}, "legend": {"title": null, "orient": "bottom-right", "offset": 3, "symbolSize": 80, "symbolOpacity": 1, "symbolStrokeWidth": 2, "labelFontSize": 10.5, "rowPadding": 2}},
                  "stroke": {"field": "k", "type": "nominal", "scale": {"domain": ["simulation", "experiment"], "range": ["#c4c4c4", "#000000"]}, "legend": {"title": null, "orient": "bottom-right", "offset": 3, "symbolSize": 80, "symbolOpacity": 1, "symbolStrokeWidth": 2, "labelFontSize": 10.5, "rowPadding": 2}}
                }}
              ]
            },
            {
              "title": {"text": "Plus CN", "fontSize": 11, "fontWeight": "bold", "frame": "group", "offset": -2},
              "width": 107, "height": 72, "view": {"stroke": "#999"},
              "encoding": {
                "x": {"field": "t", "type": "quantitative", "scale": {"domain": [0, 600], "nice": false}, "axis": {"values": [0, 300, 600], "ticks": false, "domain": false, "labelPadding": 2, "title": "Time (seconds)", "titleFontSize": 11.5, "titlePadding": 8}},
                "y": {"field": "v", "type": "quantitative", "scale": {"domain": [1, 1.8], "nice": false, "zero": false}, "axis": {"values": [1, 1.2, 1.4, 1.6, 1.8], "format": ".1~f", "ticks": false, "domain": false, "labelPadding": 2, "title": "Emission ratio (Y/C)", "titleFontSize": 8.5, "titlePadding": 1}}
              },
              "layer": [
                {"data": {"name": "f2s"}, "mark": {"type": "area", "color": "#a2a2a2"}, "encoding": {"y2": {"field": "v2"}}},
                {"data": {"name": "f2e"}, "mark": {"type": "line", "color": "#1d1d9e", "strokeWidth": 2}, "encoding": {}},
                {"data": {"name": "f2e"}, "mark": {"type": "point", "filled": true, "size": 12, "color": "#1d1d9e", "opacity": 1}, "encoding": {}},
                {"data": {"name": "simleg"}, "mark": {"type": "point", "opacity": 0, "filled": true}, "encoding": {
                  "shape": {"field": "k", "type": "nominal", "scale": {"domain": ["simulation", "experiment"], "range": ["stroke", "circle"]}, "legend": {"title": null, "orient": "bottom-right", "offset": 3, "symbolSize": 80, "symbolOpacity": 1, "symbolStrokeWidth": 2, "labelFontSize": 10.5, "rowPadding": 2}},
                  "fill": {"field": "k", "type": "nominal", "scale": {"domain": ["simulation", "experiment"], "range": ["#c4c4c4", "#000000"]}, "legend": {"title": null, "orient": "bottom-right", "offset": 3, "symbolSize": 80, "symbolOpacity": 1, "symbolStrokeWidth": 2, "labelFontSize": 10.5, "rowPadding": 2}},
                  "stroke": {"field": "k", "type": "nominal", "scale": {"domain": ["simulation", "experiment"], "range": ["#c4c4c4", "#000000"]}, "legend": {"title": null, "orient": "bottom-right", "offset": 3, "symbolSize": 80, "symbolOpacity": 1, "symbolStrokeWidth": 2, "labelFontSize": 10.5, "rowPadding": 2}}
                }}
              ]
            }
          ],
          "spacing": 0,
          "resolve": {"scale": {"fill": "independent", "stroke": "independent", "shape": "independent", "x": "independent", "y": "independent"}}
        },
        {
          "title": {"text": "G", "anchor": "start", "fontSize": 25, "fontWeight": "normal", "offset": -22},
          "vconcat": [
            {
              "title": {"text": "RIIα S98A", "subtitle": "No CN", "fontSize": 13, "fontWeight": "bold", "subtitleFont": "Liberation Sans", "subtitleFontSize": 11, "subtitleFontWeight": "bold", "subtitleColor": "#111", "subtitlePadding": 13, "frame": "group", "offset": -1},
              "width": 105, "height": 72, "view": {"stroke": "#999"},
              "encoding": {
                "x": {"field": "t", "type": "quantitative", "scale": {"domain": [0, 600], "nice": false}, "axis": {"values": [0, 300, 600], "ticks": false, "domain": false, "labelPadding": 2, "title": null}},
                "y": {"field": "v", "type": "quantitative", "scale": {"domain": [1, 1.8], "nice": false, "zero": false}, "axis": {"values": [1, 1.2, 1.4, 1.6, 1.8], "format": ".1~f", "ticks": false, "domain": false, "labelPadding": 2, "title": null}}
              },
              "layer": [
                {"data": {"name": "g1s"}, "mark": {"type": "area", "color": "#a2a2a2"}, "encoding": {"y2": {"field": "v2"}}},
                {"data": {"name": "g1e"}, "mark": {"type": "line", "color": "#e31b1b", "strokeWidth": 2}, "encoding": {}},
                {"data": {"name": "g1e"}, "mark": {"type": "point", "filled": true, "size": 12, "color": "#e31b1b", "opacity": 1}, "encoding": {}},
                {"data": {"name": "simleg"}, "mark": {"type": "point", "opacity": 0, "filled": true}, "encoding": {
                  "shape": {"field": "k", "type": "nominal", "scale": {"domain": ["simulation", "experiment"], "range": ["stroke", "circle"]}, "legend": {"title": null, "orient": "top-left", "offset": 2, "symbolSize": 80, "symbolOpacity": 1, "symbolStrokeWidth": 2, "labelFontSize": 10.5, "rowPadding": 2}},
                  "fill": {"field": "k", "type": "nominal", "scale": {"domain": ["simulation", "experiment"], "range": ["#c4c4c4", "#000000"]}, "legend": {"title": null, "orient": "top-left", "offset": 2, "symbolSize": 80, "symbolOpacity": 1, "symbolStrokeWidth": 2, "labelFontSize": 10.5, "rowPadding": 2}},
                  "stroke": {"field": "k", "type": "nominal", "scale": {"domain": ["simulation", "experiment"], "range": ["#c4c4c4", "#000000"]}, "legend": {"title": null, "orient": "top-left", "offset": 2, "symbolSize": 80, "symbolOpacity": 1, "symbolStrokeWidth": 2, "labelFontSize": 10.5, "rowPadding": 2}}
                }}
              ]
            },
            {
              "title": {"text": "Plus CN", "fontSize": 11, "fontWeight": "bold", "frame": "group", "offset": -2},
              "width": 105, "height": 72, "view": {"stroke": "#999"},
              "encoding": {
                "x": {"field": "t", "type": "quantitative", "scale": {"domain": [0, 600], "nice": false}, "axis": {"values": [0, 300, 600], "ticks": false, "domain": false, "labelPadding": 2, "title": "Time (seconds)", "titleFontSize": 11.5, "titlePadding": 8}},
                "y": {"field": "v", "type": "quantitative", "scale": {"domain": [1, 1.8], "nice": false, "zero": false}, "axis": {"values": [1, 1.2, 1.4, 1.6, 1.8], "format": ".1~f", "ticks": false, "domain": false, "labelPadding": 2, "title": null}}
              },
              "layer": [
                {"data": {"name": "g2s"}, "mark": {"type": "area", "color": "#a2a2a2"}, "encoding": {"y2": {"field": "v2"}}},
                {"data": {"name": "g2e"}, "mark": {"type": "line", "color": "#a31414", "strokeWidth": 2}, "encoding": {}},
                {"data": {"name": "g2e"}, "mark": {"type": "point", "filled": true, "size": 12, "color": "#a31414", "opacity": 1}, "encoding": {}},
                {"data": {"name": "simleg"}, "mark": {"type": "point", "opacity": 0, "filled": true}, "encoding": {
                  "shape": {"field": "k", "type": "nominal", "scale": {"domain": ["simulation", "experiment"], "range": ["stroke", "circle"]}, "legend": {"title": null, "orient": "top-left", "offset": 2, "symbolSize": 80, "symbolOpacity": 1, "symbolStrokeWidth": 2, "labelFontSize": 10.5, "rowPadding": 2}},
                  "fill": {"field": "k", "type": "nominal", "scale": {"domain": ["simulation", "experiment"], "range": ["#c4c4c4", "#000000"]}, "legend": {"title": null, "orient": "top-left", "offset": 2, "symbolSize": 80, "symbolOpacity": 1, "symbolStrokeWidth": 2, "labelFontSize": 10.5, "rowPadding": 2}},
                  "stroke": {"field": "k", "type": "nominal", "scale": {"domain": ["simulation", "experiment"], "range": ["#c4c4c4", "#000000"]}, "legend": {"title": null, "orient": "top-left", "offset": 2, "symbolSize": 80, "symbolOpacity": 1, "symbolStrokeWidth": 2, "labelFontSize": 10.5, "rowPadding": 2}}
                }}
              ]
            }
          ],
          "spacing": 0,
          "resolve": {"scale": {"fill": "independent", "stroke": "independent", "shape": "independent", "x": "independent", "y": "independent"}}
        },
        {
          "title": {"text": "H", "anchor": "start", "fontSize": 25, "fontWeight": "normal", "offset": -22},
          "vconcat": [
            {
              "title": {"text": "RIIα S98E", "subtitle": "No CN", "fontSize": 13, "fontWeight": "bold", "subtitleFont": "Liberation Sans", "subtitleFontSize": 11, "subtitleFontWeight": "bold", "subtitleColor": "#111", "subtitlePadding": 13, "frame": "group", "offset": -1},
              "width": 105, "height": 72, "view": {"stroke": "#999"},
              "encoding": {
                "x": {"field": "t", "type": "quantitative", "scale": {"domain": [0, 600], "nice": false}, "axis": {"values": [0, 300, 600], "ticks": false, "domain": false, "labelPadding": 2, "title": null}},
                "y": {"field": "v", "type": "quantitative", "scale": {"domain": [1, 1.8], "nice": false, "zero": false}, "axis": {"values": [1, 1.2, 1.4, 1.6, 1.8], "format": ".1~f", "ticks": false, "domain": false, "labelPadding": 2, "title": null}}
              },
              "layer": [
                {"data": {"name": "h1s"}, "mark": {"type": "area", "color": "#a2a2a2"}, "encoding": {"y2": {"field": "v2"}}},
                {"data": {"name": "h1e"}, "mark": {"type": "line", "color": "#6fcf62", "strokeWidth": 2}, "encoding": {}},
                {"data": {"name": "h1e"}, "mark": {"type": "point", "filled": true, "size": 12, "color": "#6fcf62", "opacity": 1}, "encoding": {}},
                {"data": {"name": "simleg"}, "mark": {"type": "point", "opacity": 0, "filled": true}, "encoding": {
                  "shape": {"field": "k", "type": "nominal", "scale": {"domain": ["simulation", "experiment"], "range": ["stroke", "circle"]}, "legend": {"title": null, "orient": "bottom-right", "offset": 3, "symbolSize": 80, "symbolOpacity": 1, "symbolStrokeWidth": 2, "labelFontSize": 10.5, "rowPadding": 2}},
                  "fill": {"field": "k", "type": "nominal", "scale": {"domain": ["simulation", "experiment"], "range": ["#c4c4c4", "#000000"]}, "legend": {"title": null, "orient": "bottom-right", "offset": 3, "symbolSize": 80, "symbolOpacity": 1, "symbolStrokeWidth": 2, "labelFontSize": 10.5, "rowPadding": 2}},
                  "stroke": {"field": "k", "type": "nominal", "scale": {"domain": ["simulation", "experiment"], "range": ["#c4c4c4", "#000000"]}, "legend": {"title": null, "orient": "bottom-right", "offset": 3, "symbolSize": 80, "symbolOpacity": 1, "symbolStrokeWidth": 2, "labelFontSize": 10.5, "rowPadding": 2}}
                }}
              ]
            },
            {
              "title": {"text": "Plus CN", "fontSize": 11, "fontWeight": "bold", "frame": "group", "offset": -2},
              "width": 105, "height": 72, "view": {"stroke": "#999"},
              "encoding": {
                "x": {"field": "t", "type": "quantitative", "scale": {"domain": [0, 600], "nice": false}, "axis": {"values": [0, 300, 600], "ticks": false, "domain": false, "labelPadding": 2, "title": "Time (seconds)", "titleFontSize": 11.5, "titlePadding": 8}},
                "y": {"field": "v", "type": "quantitative", "scale": {"domain": [1, 1.8], "nice": false, "zero": false}, "axis": {"values": [1, 1.2, 1.4, 1.6, 1.8], "format": ".1~f", "ticks": false, "domain": false, "labelPadding": 2, "title": null}}
              },
              "layer": [
                {"data": {"name": "h2s"}, "mark": {"type": "area", "color": "#a2a2a2"}, "encoding": {"y2": {"field": "v2"}}},
                {"data": {"name": "h2e"}, "mark": {"type": "line", "color": "#4f6e1e", "strokeWidth": 2}, "encoding": {}},
                {"data": {"name": "h2e"}, "mark": {"type": "point", "filled": true, "size": 12, "color": "#4f6e1e", "opacity": 1}, "encoding": {}},
                {"data": {"name": "simleg"}, "mark": {"type": "point", "opacity": 0, "filled": true}, "encoding": {
                  "shape": {"field": "k", "type": "nominal", "scale": {"domain": ["simulation", "experiment"], "range": ["stroke", "circle"]}, "legend": {"title": null, "orient": "bottom-right", "offset": 3, "symbolSize": 80, "symbolOpacity": 1, "symbolStrokeWidth": 2, "labelFontSize": 10.5, "rowPadding": 2}},
                  "fill": {"field": "k", "type": "nominal", "scale": {"domain": ["simulation", "experiment"], "range": ["#c4c4c4", "#000000"]}, "legend": {"title": null, "orient": "bottom-right", "offset": 3, "symbolSize": 80, "symbolOpacity": 1, "symbolStrokeWidth": 2, "labelFontSize": 10.5, "rowPadding": 2}},
                  "stroke": {"field": "k", "type": "nominal", "scale": {"domain": ["simulation", "experiment"], "range": ["#c4c4c4", "#000000"]}, "legend": {"title": null, "orient": "bottom-right", "offset": 3, "symbolSize": 80, "symbolOpacity": 1, "symbolStrokeWidth": 2, "labelFontSize": 10.5, "rowPadding": 2}}
                }}
              ]
            }
          ],
          "spacing": 0,
          "resolve": {"scale": {"fill": "independent", "stroke": "independent", "shape": "independent", "x": "independent", "y": "independent"}}
        }
      ],
      "spacing": 5,
      "resolve": {"scale": {"color": "independent", "fill": "independent", "stroke": "independent", "shape": "independent", "x": "independent", "y": "independent"}}
    }
  ],
  "spacing": 18,
  "resolve": {"scale": {"color": "independent", "fill": "independent", "stroke": "independent", "shape": "independent", "x": "independent", "y": "independent"}}
}
